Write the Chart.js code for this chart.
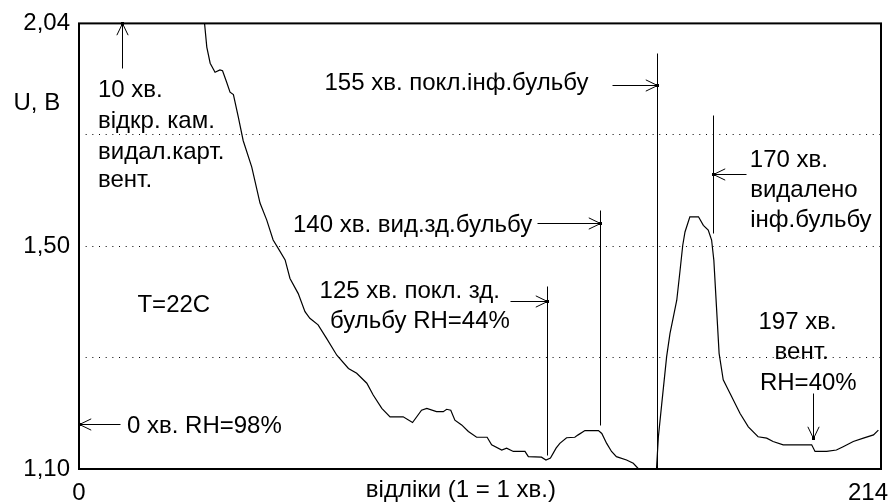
<!DOCTYPE html>
<html>
<head>
<meta charset="utf-8">
<script src="https://cdn.jsdelivr.net/npm/chart.js@4.4.1/dist/chart.umd.min.js"></script>
<style>
html,body{margin:0;padding:0;background:#fff;}
#wrap{width:889px;height:502px;}
</style>
</head>
<body>
<div id="wrap"><canvas id="c" width="889" height="502"></canvas></div>
<script>
// ---- data ----
const minutes = [33.5,34.1,35.0,36.3,37.6,38.3,39.4,40.3,41.2,42.5,43.8,46.1,48.3,50.1,51.8,53.2,55.0,56.3,58.5,60.3,61.6,63.8,66.1,68.8,71.9,74.1,76.8,78.5,80.8,83.0,86.5,89.0,91.4,92.8,95.4,97.2,98.1,99.2,100.3,102.1,103.9,106.1,108.9,110.1,112.8,114.1,115.9,119.0,119.9,123.4,124.6,125.8,127.3,128.3,130.1,132.3,133.2,135.0,138.6,139.5,140.8,142.1,143.4,146.1,147.9,149.2,154.1,154.6,155.5,156.8,157.7,158.6,159.5,160.3,161.1,161.7,163.0,165.3,166.6,167.9,168.8,169.4,170.1,170.8,171.9,173.7,176.4,178.6,181.2,183.5,185.2,187.9,195.5,196.4,199.5,202.1,203.9,206.6,209.3,212.0,213.3];
const voltage = [2.04,1.99,1.956,1.937,1.942,1.94,1.916,1.895,1.89,1.843,1.793,1.737,1.661,1.625,1.583,1.565,1.541,1.502,1.470,1.432,1.418,1.404,1.375,1.340,1.312,1.302,1.281,1.256,1.228,1.210,1.210,1.198,1.224,1.228,1.221,1.221,1.226,1.224,1.203,1.193,1.179,1.167,1.167,1.151,1.140,1.144,1.137,1.137,1.126,1.125,1.119,1.123,1.144,1.154,1.166,1.167,1.172,1.181,1.181,1.175,1.154,1.137,1.126,1.119,1.112,1.101,1.101,1.168,1.238,1.337,1.386,1.421,1.456,1.513,1.572,1.600,1.632,1.632,1.614,1.604,1.583,1.540,1.442,1.344,1.288,1.260,1.217,1.189,1.168,1.165,1.158,1.151,1.151,1.137,1.137,1.140,1.147,1.158,1.165,1.172,1.182];
const yTickValues = [1.10, 1.335, 1.57, 1.805, 2.04];
const yTickLabels = ["1,10", "", "1,50", "", "2,04"];
const xTickValues = [0, 214];
const xTickLabels = ["0", "214"];
const xTitle = "відліки (1 = 1 хв.)";
const yTitle = "U, B";

// annotation texts (anchor in data units: minute, volt)
const noteTexts = [
  ["10 хв.", 5.07, 1.884],
  ["відкр. кам.", 5.07, 1.819],
  ["видал.карт.", 5.07, 1.755],
  ["вент.", 5.07, 1.694],
  ["0 хв. RH=98%", 12.8, 1.176],
  ["T=22C", 15.6, 1.431],
  ["125 хв. покл. зд.", 64.2, 1.460],
  ["бульбу RH=44%", 67.0, 1.397],
  ["140 хв. вид.зд.бульбу", 57.1, 1.600],
  ["155 хв. покл.інф.бульбу", 65.5, 1.900],
  ["170 хв.", 179.0, 1.737],
  ["видалено", 179.1, 1.674],
  ["інф.бульбу", 179.1, 1.611],
  ["197 хв.", 181.3, 1.395],
  ["вент.", 185.6, 1.333],
  ["RH=40%", 181.7, 1.266]
];
// annotation lines: [x1, y1, x2, y2, arrowhead at end]
const noteLines = [
  [11.5, 1.945, 11.5, 2.04, true],
  [10.9, 1.195, 0, 1.195, true],
  [124.9, 1.486, 124.9, 1.130, false],
  [115.0, 1.455, 124.9, 1.455, true],
  [139.0, 1.646, 139.0, 1.193, false],
  [122.2, 1.619, 139.0, 1.619, true],
  [154.2, 1.977, 154.2, 1.10, false],
  [142.1, 1.909, 154.2, 1.909, true],
  [169.1, 1.846, 169.1, 1.597, false],
  [178.1, 1.722, 169.1, 1.722, true],
  [195.9, 1.260, 195.9, 1.165, true]
];

const FONT = '24px "Liberation Sans", Arial, sans-serif';

const points = minutes.map((m, i) => ({x: m, y: voltage[i]}));

const framePlugin = {
  id: 'frame',
  afterDraw(chart) {
    const {ctx, chartArea: a, scales} = chart;
    const xs = scales.x, ys = scales.y;
    ctx.save();
    // frame
    ctx.strokeStyle = '#000';
    ctx.lineWidth = 2;
    ctx.strokeRect(a.left, a.top, a.right - a.left, a.bottom - a.top);
    // annotation lines
    ctx.lineWidth = 1;
    ctx.strokeStyle = '#000';
    noteLines.forEach(([x1, y1, x2, y2, head]) => {
      const px1 = Math.round(xs.getPixelForValue(x1)) + 0.5;
      const py1 = Math.round(ys.getPixelForValue(y1)) + 0.5;
      const px2 = Math.round(xs.getPixelForValue(x2)) + 0.5;
      const py2 = Math.round(ys.getPixelForValue(y2)) + 0.5;
      ctx.beginPath();
      ctx.moveTo(px1, py1);
      ctx.lineTo(px2, py2);
      ctx.stroke();
      if (head) {
        const ang = Math.atan2(py2 - py1, px2 - px1);
        const L = 13, S = 0.45;
        ctx.beginPath();
        ctx.moveTo(px2 - L * Math.cos(ang - S), py2 - L * Math.sin(ang - S));
        ctx.lineTo(px2, py2);
        ctx.lineTo(px2 - L * Math.cos(ang + S), py2 - L * Math.sin(ang + S));
        ctx.stroke();
        ctx.fillStyle = '#000';
        ctx.fillRect(px2 - 1.5, py2 - 1.5, 3, 3);
      }
    });
    // texts
    ctx.fillStyle = '#000';
    ctx.font = FONT;
    ctx.textBaseline = 'alphabetic';
    ctx.textAlign = 'left';
    noteTexts.forEach(([t, x, y]) => {
      ctx.fillText(t, xs.getPixelForValue(x), ys.getPixelForValue(y));
    });
    // y title
    ctx.fillText(yTitle, 13.5, ys.getPixelForValue(1.857));
    // x tick labels
    ctx.textAlign = 'center';
    ctx.fillText(xTickLabels[0], xs.getPixelForValue(xTickValues[0]), 500);
    ctx.textAlign = 'right';
    ctx.fillText(xTickLabels[1], chart.width - 1, 500);
    // x title
    ctx.textAlign = 'center';
    ctx.fillText(xTitle, xs.getPixelForValue(101.9), 497);
    ctx.restore();
  }
};

new Chart(document.getElementById('c'), {
  type: 'line',
  data: {
    datasets: [{
      data: points,
      borderColor: '#000',
      borderWidth: 1.2,
      pointRadius: 0,
      tension: 0,
      fill: false
    }]
  },
  options: {
    responsive: false,
    animation: false,
    devicePixelRatio: 1,
    layout: {padding: {top: 23, right: 8, left: 0, bottom: 0}},
    plugins: {legend: {display: false}, tooltip: {enabled: false}},
    scales: {
      x: {
        type: 'linear', min: 0, max: 214,
        ticks: {display: false},
        grid: {display: false},
        border: {display: false},
        afterFit(s) { s.height = 33; }
      },
      y: {
        type: 'linear', min: 1.10, max: 2.04,
        afterBuildTicks(s) { s.ticks = yTickValues.map(v => ({value: v})); },
        afterFit(s) { s.width = 79; },
        ticks: {
          callback: (v, i) => yTickLabels[i],
          font: {family: '"Liberation Sans", Arial, sans-serif', size: 24},
          color: '#000',
          padding: 9
        },
        grid: {
          drawTicks: false,
          color: (c) => (c.index === 0 || c.index === yTickValues.length - 1) ? 'rgba(0,0,0,0)' : '#000',
          lineWidth: 1,
          borderDash: [1, 5.67]
        },
        border: {display: false, dash: [1, 5.67], dashOffset: 0}
      }
    }
  },
  plugins: [framePlugin]
});
</script>
</body>
</html>
